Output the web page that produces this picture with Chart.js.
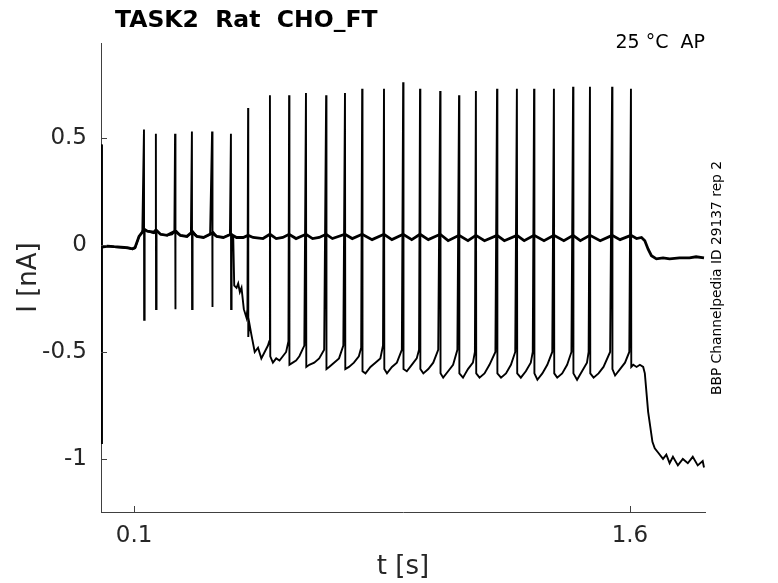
<!DOCTYPE html>
<html>
<head>
<meta charset="utf-8">
<script src="https://cdn.jsdelivr.net/npm/chart.js@4/dist/chart.umd.min.js"></script>
<style>
  body { margin: 0; background: #fff; }
  #wrap { width: 778px; height: 583px; }
</style>
</head>
<body>
<div id="wrap"><canvas id="trace-chart" width="778" height="583"></canvas></div>
<script>
// sweep 1 (upper trace), time in s, current in nA
const sweepATime = [0, 0.001, 0.002, 0.02, 0.04, 0.06, 0.08, 0.095, 0.103, 0.115, 0.125, 0.13, 0.14, 0.16, 0.166, 0.18, 0.2, 0.224, 0.24, 0.26, 0.275, 0.29, 0.31, 0.336, 0.35, 0.37, 0.393, 0.41, 0.43, 0.445, 0.46, 0.49, 0.511, 0.53, 0.55, 0.569, 0.59, 0.62, 0.64, 0.66, 0.681, 0.7, 0.738, 0.76, 0.79, 0.82, 0.856, 0.88, 0.914, 0.94, 0.965, 0.99, 1.026, 1.05, 1.083, 1.11, 1.134, 1.16, 1.198, 1.22, 1.258, 1.28, 1.31, 1.34, 1.37, 1.4, 1.428, 1.45, 1.479, 1.51, 1.546, 1.57, 1.603, 1.62, 1.635, 1.645, 1.655, 1.665, 1.68, 1.7, 1.72, 1.75, 1.78, 1.8, 1.824];
const sweepAI = [0.47, -0.93, -0.01, -0.005, -0.008, -0.01, -0.012, -0.018, -0.012, 0.04, 0.06, 0.075, 0.065, 0.06, 0.07, 0.05, 0.045, 0.065, 0.045, 0.04, 0.06, 0.04, 0.035, 0.055, 0.04, 0.035, 0.05, 0.035, 0.035, 0.045, 0.035, 0.03, 0.05, 0.03, 0.035, 0.05, 0.03, 0.05, 0.03, 0.035, 0.05, 0.03, 0.05, 0.03, 0.05, 0.025, 0.05, 0.025, 0.05, 0.025, 0.05, 0.025, 0.05, 0.02, 0.045, 0.02, 0.045, 0.02, 0.045, 0.02, 0.045, 0.02, 0.045, 0.02, 0.045, 0.02, 0.045, 0.02, 0.045, 0.02, 0.045, 0.025, 0.045, 0.03, 0.035, 0.02, -0.02, -0.05, -0.065, -0.06, -0.065, -0.06, -0.06, -0.055, -0.06];

// sweep 2 (lower trace with action currents)
const sweepBTime = [0, 0.001, 0.002, 0.02, 0.04, 0.06, 0.08, 0.095, 0.103, 0.115, 0.125,
  0.13, 0.1305, 0.132, 0.14, 0.15, 0.16, 0.165,
  0.166, 0.1665, 0.168, 0.18, 0.2, 0.215, 0.222,
  0.224, 0.2245, 0.226, 0.24, 0.26, 0.272,
  0.275, 0.2755, 0.277, 0.29, 0.31, 0.33,
  0.336, 0.3365, 0.338, 0.35, 0.37, 0.39,
  0.393, 0.3935, 0.395, 0.4, 0.403, 0.41, 0.415, 0.42, 0.425, 0.432, 0.44, 0.443,
  0.445, 0.4455, 0.448, 0.455, 0.465, 0.475, 0.485, 0.495, 0.505, 0.509,
  0.511, 0.512, 0.52, 0.53, 0.54, 0.55, 0.56, 0.567,
  0.569, 0.57, 0.58, 0.59, 0.6, 0.615,
  0.62, 0.621, 0.63, 0.645, 0.66, 0.675,
  0.681, 0.682, 0.69, 0.705, 0.72, 0.733,
  0.738, 0.739, 0.75, 0.765, 0.78, 0.787,
  0.79, 0.791, 0.8, 0.815, 0.83, 0.845, 0.853,
  0.856, 0.857, 0.865, 0.88, 0.895, 0.91,
  0.914, 0.915, 0.925, 0.94, 0.955, 0.962,
  0.965, 0.966, 0.975, 0.99, 1.005, 1.02,
  1.026, 1.027, 1.035, 1.05, 1.065, 1.078,
  1.083, 1.084, 1.095, 1.11, 1.125, 1.131,
  1.134, 1.135, 1.145, 1.16, 1.175, 1.193,
  1.198, 1.199, 1.21, 1.225, 1.24, 1.253,
  1.258, 1.259, 1.27, 1.285, 1.3, 1.306,
  1.31, 1.311, 1.32, 1.335, 1.35, 1.365,
  1.37, 1.371, 1.38, 1.395, 1.41, 1.423,
  1.428, 1.429, 1.44, 1.455, 1.47, 1.475,
  1.479, 1.48, 1.49, 1.505, 1.52, 1.54,
  1.546, 1.547, 1.555, 1.57, 1.585, 1.598,
  1.603, 1.604, 1.61, 1.62, 1.63, 1.64, 1.645, 1.655, 1.668, 1.675, 1.685, 1.7, 1.71, 1.72, 1.73, 1.745, 1.76, 1.775, 1.79, 1.805, 1.82, 1.824];
const sweepBI = [0.47, -0.93, -0.01, -0.005, -0.01, -0.012, -0.015, -0.02, -0.015, 0.04, 0.06,
  0.54, -0.35, 0.07, 0.065, 0.06, 0.055, 0.06,
  0.52, -0.3, 0.07, 0.05, 0.045, 0.05, 0.06,
  0.52, -0.3, 0.07, 0.045, 0.04, 0.055,
  0.53, -0.3, 0.065, 0.04, 0.035, 0.05,
  0.53, -0.29, 0.065, 0.04, 0.035, 0.05,
  0.52, -0.3, 0.05, 0.035, -0.19, -0.2, -0.18, -0.22, -0.2, -0.3, -0.34, -0.3,
  0.64, -0.43, -0.36, -0.42, -0.5, -0.48, -0.53, -0.5, -0.47, -0.45,
  0.7, -0.52, -0.55, -0.53, -0.54, -0.52, -0.5, -0.45,
  0.7, -0.56, -0.55, -0.54, -0.52, -0.47,
  0.71, -0.57, -0.56, -0.55, -0.53, -0.49,
  0.7, -0.58, -0.57, -0.55, -0.53, -0.47,
  0.71, -0.58, -0.57, -0.55, -0.52, -0.48,
  0.73, -0.59, -0.6, -0.57, -0.55, -0.53, -0.47,
  0.73, -0.58, -0.6, -0.57, -0.55, -0.49,
  0.76, -0.58, -0.59, -0.56, -0.53, -0.49,
  0.73, -0.58, -0.6, -0.58, -0.55, -0.49,
  0.72, -0.6, -0.62, -0.59, -0.56, -0.49,
  0.7, -0.6, -0.62, -0.58, -0.55, -0.5,
  0.72, -0.6, -0.62, -0.6, -0.56, -0.5,
  0.73, -0.6, -0.62, -0.6, -0.56, -0.5,
  0.73, -0.6, -0.62, -0.59, -0.55, -0.5,
  0.73, -0.6, -0.63, -0.6, -0.56, -0.5,
  0.73, -0.6, -0.62, -0.6, -0.56, -0.5,
  0.74, -0.6, -0.63, -0.59, -0.55, -0.5,
  0.74, -0.6, -0.62, -0.6, -0.57, -0.5,
  0.74, -0.58, -0.61, -0.58, -0.55, -0.5,
  0.73, -0.57, -0.56, -0.57, -0.56, -0.57, -0.6, -0.78, -0.92, -0.95, -0.97, -1.0, -0.98, -1.02, -0.99, -1.03, -1.0, -1.02, -0.99, -1.03, -1.01, -1.04];

const xTicks = [0.1, 1.6];
const yTicks = [-1, -0.5, 0, 0.5];

const chartTitle = 'TASK2  Rat  CHO_FT';
const cornerNote = '25 °C  AP';
const sideNote = 'BBP Channelpedia ID 29137 rep 2';

function toPoints(ts, vs) {
  return ts.map((t, i) => ({ x: t, y: vs[i] }));
}

const inkColor = '#262626';

// titles, notes and the little inward tick marks
const decorations = {
  id: 'decorations',
  afterDraw(chart) {
    const ctx = chart.ctx;
    const area = chart.chartArea;
    const xs = chart.scales.x, ys = chart.scales.y;
    ctx.save();
    ctx.strokeStyle = '#404040';
    ctx.lineWidth = 1;
    yTicks.forEach(v => {
      const py = Math.round(ys.getPixelForValue(v)) + 0.5;
      ctx.beginPath(); ctx.moveTo(area.left, py); ctx.lineTo(area.left + 6, py); ctx.stroke();
    });
    xTicks.forEach(v => {
      const px = Math.round(xs.getPixelForValue(v)) + 0.5;
      ctx.beginPath(); ctx.moveTo(px, area.bottom); ctx.lineTo(px, area.bottom - 6); ctx.stroke();
    });

    ctx.fillStyle = '#000';
    ctx.font = 'bold 23.5px "DejaVu Sans"';
    ctx.textAlign = 'left';
    ctx.textBaseline = 'alphabetic';
    ctx.fillText(chartTitle, 115, 27);

    ctx.font = '19px "DejaVu Sans"';
    ctx.textAlign = 'right';
    ctx.fillText(cornerNote, 705, 48);

    ctx.fillStyle = inkColor;
    ctx.font = '26px "DejaVu Sans"';
    ctx.textAlign = 'center';
    ctx.textBaseline = 'middle';
    ctx.fillText('t [s]', (area.left + area.right) / 2, 567);

    ctx.save();
    ctx.translate(29, (area.top + area.bottom) / 2);
    ctx.rotate(-Math.PI / 2);
    ctx.fillText('I [nA]', 0, 0);
    ctx.restore();

    ctx.fillStyle = '#000';
    ctx.font = '13.8px "DejaVu Sans"';
    ctx.save();
    ctx.translate(717, 278);
    ctx.rotate(-Math.PI / 2);
    ctx.fillText(sideNote, 0, 0);
    ctx.restore();
    ctx.restore();
  }
};

new Chart(document.getElementById('trace-chart'), {
  type: 'line',
  data: {
    datasets: [
      {
        label: 'sweep 1',
        data: toPoints(sweepATime, sweepAI),
        borderColor: '#000',
        borderWidth: 2.8,
        pointRadius: 0,
        tension: 0,
        fill: false
      },
      {
        label: 'sweep 2',
        data: toPoints(sweepBTime, sweepBI),
        borderColor: '#000',
        borderWidth: 1.9,
        pointRadius: 0,
        tension: 0,
        fill: false
      }
    ]
  },
  options: {
    responsive: false,
    animation: false,
    events: [],
    layout: { padding: { top: 43, right: 73, left: 0, bottom: 0 } },
    plugins: {
      legend: { display: false },
      tooltip: { enabled: false }
    },
    scales: {
      x: {
        type: 'linear',
        min: 0,
        max: 1.827,
        afterFit(scale) { scale.height = 71; },
        afterBuildTicks(scale) { scale.ticks = xTicks.map(v => ({ value: v })); },
        grid: { display: false, drawTicks: false },
        border: { display: true, color: '#404040', width: 1 },
        ticks: {
          color: inkColor,
          padding: 10,
          maxRotation: 0,
          autoSkip: false,
          font: { family: 'DejaVu Sans', size: 23 },
          callback: v => String(v)
        }
      },
      y: {
        type: 'linear',
        min: -1.248,
        max: 0.944,
        afterFit(scale) { scale.width = 101; },
        afterBuildTicks(scale) { scale.ticks = yTicks.map(v => ({ value: v })); },
        grid: { display: false, drawTicks: false },
        border: { display: true, color: '#404040', width: 1 },
        ticks: {
          color: inkColor,
          padding: 14,
          autoSkip: false,
          font: { family: 'DejaVu Sans', size: 23 },
          callback: v => String(v)
        }
      }
    }
  },
  plugins: [decorations]
});
</script>
</body>
</html>
